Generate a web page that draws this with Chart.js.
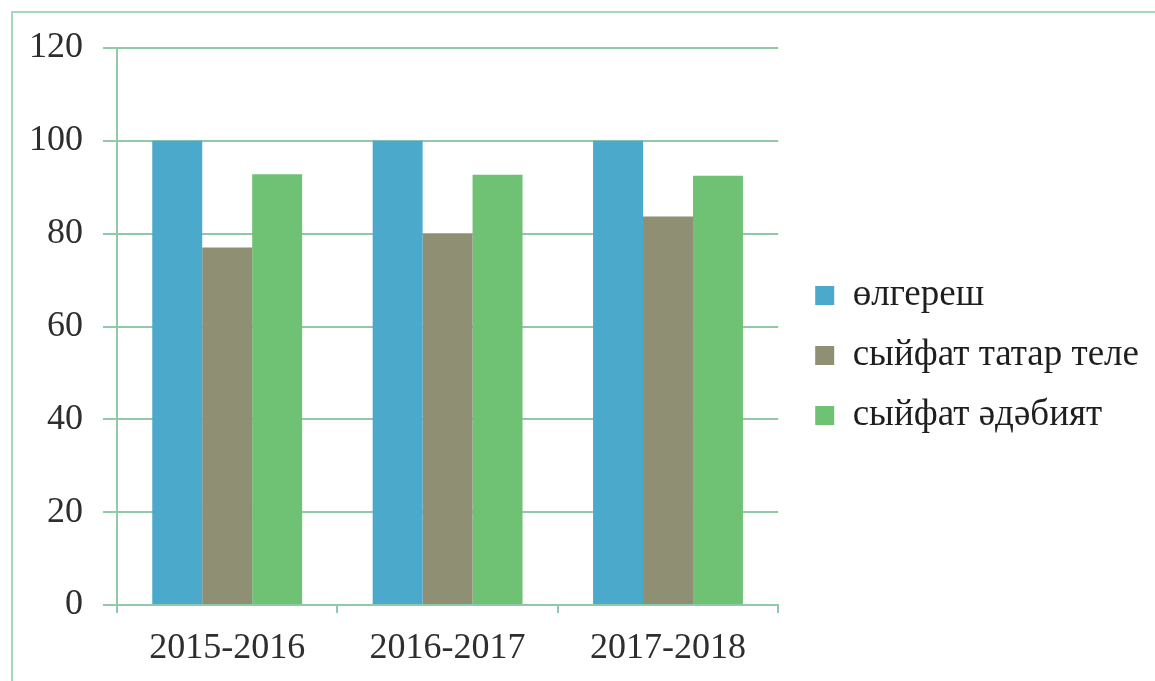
<!DOCTYPE html>
<html>
<head>
<meta charset="utf-8">
<style>
  html, body { margin: 0; padding: 0; background: #fff; }
  #wrap { position: relative; width: 1155px; height: 681px; overflow: hidden; }
  #frame { position: absolute; left: 11px; top: 11px; width: 1200px; height: 700px;
           border-left: 2px solid #a9d6bb; border-top: 2px solid #a9d6bb; }
  #box { position: absolute; left: 0; top: 0; width: 1155px; height: 681px; }
</style>
</head>
<body>
<div id="wrap">
  <div id="frame"></div>
  <div id="box"><canvas id="barChart"></canvas></div>
</div>

<script src="https://cdn.jsdelivr.net/npm/chart.js"></script>
<script>
    // values
    const years = ['2015-2016', '2016-2017', '2017-2018'];
    const olgeresh = [100, 100, 100];
    const sifatTel = [77, 80, 83.7];
    const sifatEdebiyat = [92.8, 92.7, 92.5];
    const yTicks = [0, 20, 40, 60, 80, 100, 120];

    const gridColor = '#8fc9a8';
    const serif = "'Liberation Serif', 'Times New Roman', serif";

    // nudge the legend a little away from the plot, like the original
    const legendShift = {
        id: 'legendShift',
        afterLayout(chart) {
            const lg = chart.legend;
            lg.left += 14;
            lg.right += 14;
            lg.top -= 9;
            lg.bottom -= 9;
        }
    };

    const ctx = document.getElementById('barChart').getContext('2d');
    const barChart = new Chart(ctx, {
        type: 'bar',
        data: {
            labels: years,
            datasets: [
                { label: 'өлгереш', data: olgeresh, backgroundColor: '#4ba9cb' },
                { label: 'сыйфат татар теле', data: sifatTel, backgroundColor: '#8f8f74' },
                { label: 'сыйфат әдәбият', data: sifatEdebiyat, backgroundColor: '#6fc174' }
            ]
        },
        options: {
            responsive: true,
            maintainAspectRatio: false,
            animation: false,
            layout: { padding: { top: 48, right: 20, bottom: 0, left: 0 } },
            datasets: { bar: { barPercentage: 1, categoryPercentage: 0.68 } },
            plugins: {
                tooltip: { enabled: false },
                legend: {
                    position: 'right',
                    maxWidth: 420,
                    labels: {
                        font: { family: serif, size: 37 },
                        color: '#1e1e1e',
                        boxWidth: 19,
                        boxHeight: 19,
                        padding: 23
                    }
                }
            },
            scales: {
                x: {
                    grid: { drawOnChartArea: false, drawTicks: true, tickLength: 8, color: gridColor, lineWidth: 2 },
                    border: { color: gridColor, width: 2 },
                    ticks: { font: { family: serif, size: 36 }, color: '#2e2e2e', padding: 14 },
                    afterFit: function (scale) { scale.height = 76; }
                },
                y: {
                    min: 0,
                    max: 120,
                    afterBuildTicks: function (scale) { scale.ticks = yTicks.map(v => ({ value: v })); },
                    grid: { color: gridColor, lineWidth: 2, tickLength: 14 },
                    border: { color: gridColor, width: 2 },
                    ticks: { font: { family: serif, size: 36 }, color: '#2e2e2e', padding: 20 },
                    afterFit: function (scale) { scale.width = 117; }
                }
            }
        },
        plugins: [legendShift]
    });
</script>
</body>
</html>
